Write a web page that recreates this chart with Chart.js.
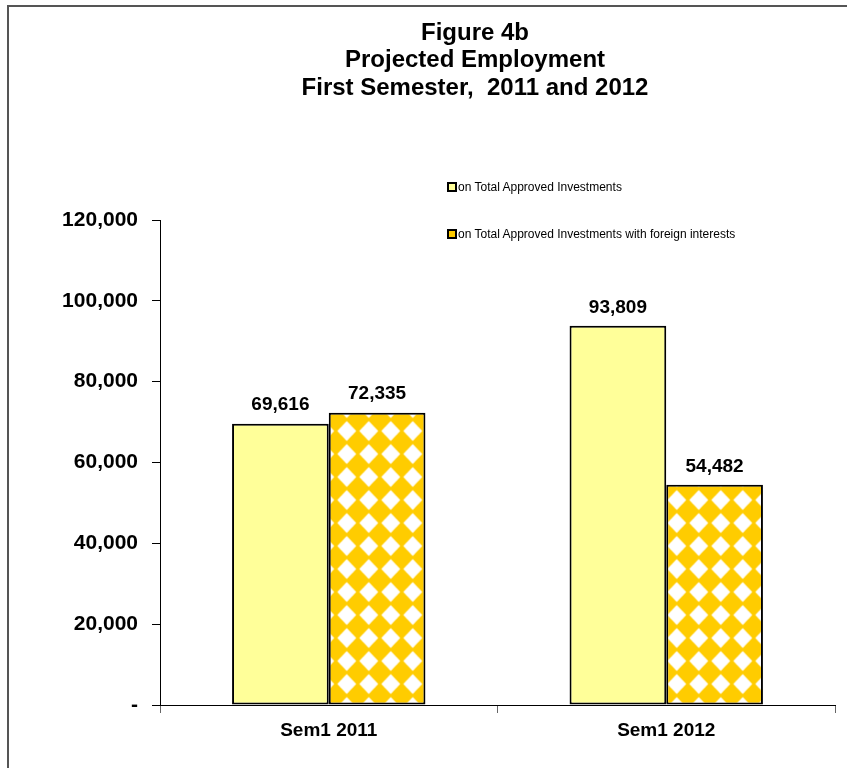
<!DOCTYPE html>
<html>
<head>
<meta charset="utf-8">
<script src="https://cdn.jsdelivr.net/npm/chart.js@4.4.1/dist/chart.umd.min.js"></script>
<style>
    body { margin: 0; background: #fff; font-family: "Liberation Sans", Arial, sans-serif; }
    #wrap { position: relative; width: 847px; height: 768px; }
    #frame { position: absolute; left: 7px; top: 5px; width: 850px; height: 780px;
             border-left: 2px solid #555; border-top: 2px solid #555; pointer-events: none; }
    .leg { position: absolute; left: 447px; font-size: 12px; color: #000; line-height: 14px; white-space: nowrap; }
    .leg i { display: inline-block; width: 6px; height: 6px; border: 2px solid #000;
             vertical-align: -1px; margin-right: 1px; }
</style>
</head>
<body>
<div id="wrap">
    <canvas id="chartEmp" width="847" height="768"></canvas>
    <div id="frame"></div>
    <div class="leg" style="top:180px"><i style="background:#FFFF99"></i>on Total Approved Investments</div>
    <div class="leg" style="top:227px"><i style="background:#FFCC00"></i>on Total Approved Investments with foreign interests</div>
</div>
<script>
const categories = ['Sem1 2011', 'Sem1 2012'];
const totalApproved = [69616, 93809];
const foreignInterests = [72335, 54482];
const seriesNames = ['on Total Approved Investments', 'on Total Approved Investments with foreign interests'];
const yTicks = [0, 20000, 40000, 60000, 80000, 100000, 120000];
const titleLines = ['Figure 4b', 'Projected Employment', 'First Semester,  2011 and 2012'];

// white diamonds on yellow, one per tile
function diamondPattern() {
    const w = 22, h = 23;
    const c = document.createElement('canvas');
    c.width = w; c.height = h;
    const g = c.getContext('2d');
    g.fillStyle = '#FFCC00';
    g.fillRect(0, 0, w, h);
    g.fillStyle = '#ffffff';
    const rx = 9.5, ry = 10;
    g.beginPath();
    g.moveTo(w / 2, h / 2 - ry);
    g.lineTo(w / 2 + rx, h / 2);
    g.lineTo(w / 2, h / 2 + ry);
    g.lineTo(w / 2 - rx, h / 2);
    g.closePath();
    g.fill();
    const pat = document.getElementById('chartEmp').getContext('2d').createPattern(c, 'repeat');
    pat.setTransform(new DOMMatrix().translate(5.7, 5.5));
    return pat;
}

const fmt = function(v) { return v.toLocaleString('en-US'); };

// value labels above the bars
const barLabels = {
    id: 'barLabels',
    afterDatasetsDraw(chart) {
        const ctx = chart.ctx;
        ctx.save();
        ctx.font = 'bold 19px "Liberation Sans", Arial, sans-serif';
        ctx.fillStyle = '#000';
        ctx.textAlign = 'center';
        ctx.textBaseline = 'bottom';
        chart.data.datasets.forEach(function(ds, i) {
            chart.getDatasetMeta(i).data.forEach(function(bar, j) {
                ctx.fillText(fmt(ds.data[j]), bar.x, bar.y - 9);
            });
        });
        ctx.restore();
    }
};

// three-line heading, set a little right of the canvas centre
const heading = {
    id: 'heading',
    afterDraw(chart) {
        const ctx = chart.ctx;
        ctx.save();
        ctx.font = 'bold 24px "Liberation Sans", Arial, sans-serif';
        ctx.fillStyle = '#000';
        ctx.textAlign = 'center';
        ctx.textBaseline = 'middle';
        titleLines.forEach(function(t, i) {
            ctx.fillText(t, 475, 33 + i * 27.5);
        });
        ctx.restore();
    }
};

document.addEventListener('DOMContentLoaded', function() {
    const tickFont = { family: '"Liberation Sans", Arial, sans-serif', weight: 'bold', size: 21 };
    const catFont = { family: '"Liberation Sans", Arial, sans-serif', weight: 'bold', size: 19 };

    var empChart = new Chart(document.getElementById('chartEmp'), {
        type: 'bar',
        data: {
            labels: categories,
            datasets: [{
                label: seriesNames[0],
                data: totalApproved,
                backgroundColor: '#FFFF99',
                borderColor: '#000',
                borderWidth: 2,
                borderSkipped: false,
                categoryPercentage: 0.573,
                barPercentage: 1.0
            }, {
                label: seriesNames[1],
                data: foreignInterests,
                backgroundColor: diamondPattern(),
                borderColor: '#000',
                borderWidth: 2,
                borderSkipped: false,
                categoryPercentage: 0.573,
                barPercentage: 1.0
            }]
        },
        options: {
            responsive: false,
            animation: false,
            layout: { padding: { left: 0, right: 12, top: 220, bottom: 0 } },
            plugins: {
                legend: { display: false },
                tooltip: { enabled: false },
                title: { display: false }
            },
            scales: {
                x: {
                    grid: { display: true, drawOnChartArea: false, drawTicks: true, tickLength: 8, color: '#666', offset: true },
                    border: { display: true, color: '#000', width: 1 },
                    ticks: { color: '#000', font: catFont, padding: 6 },
                    afterFit: function(scale) { scale.height = 63; }
                },
                y: {
                    min: 0,
                    max: 120000,
                    afterBuildTicks: function(scale) {
                        scale.ticks = yTicks.map(function(v) { return { value: v }; });
                    },
                    grid: { display: true, drawOnChartArea: false, drawTicks: true, tickLength: 8, color: '#000' },
                    border: { display: true, color: '#000', width: 1 },
                    ticks: {
                        color: '#000',
                        font: tickFont,
                        padding: 14,
                        callback: function(v) { return v === 0 ? '-' : fmt(v); }
                    },
                    afterFit: function(scale) { scale.width = 160; }
                }
            }
        },
        plugins: [barLabels, heading]
    });
});
</script>
</body>
</html>
